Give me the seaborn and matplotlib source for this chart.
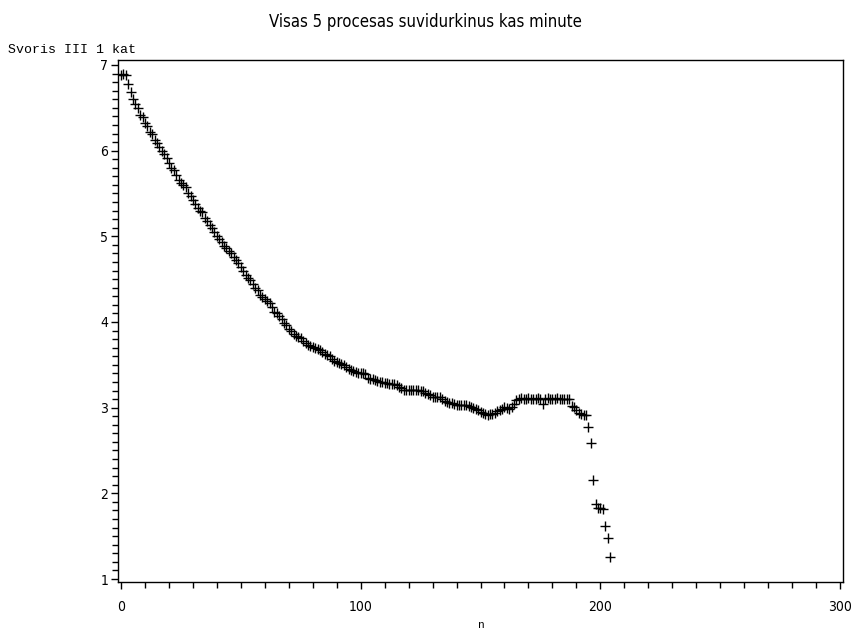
import matplotlib
matplotlib.use("Agg")
import matplotlib.pyplot as plt
from matplotlib.ticker import MultipleLocator
import seaborn as sns
import pandas as pd

# Weight series averaged per minute, one reading per step n
n_values = list(range(205))
svoris = [
    6.88, 6.90, 6.88, 6.78, 6.68, 6.60, 6.54, 6.50, 6.42, 6.39,
    6.32, 6.29, 6.22, 6.19, 6.12, 6.09, 6.04, 6.00, 5.96, 5.91,
    5.86, 5.80, 5.77, 5.71, 5.66, 5.62, 5.60, 5.58, 5.50, 5.47,
    5.42, 5.38, 5.33, 5.30, 5.28, 5.21, 5.18, 5.13, 5.10, 5.05,
    5.00, 4.97, 4.93, 4.89, 4.86, 4.83, 4.80, 4.76, 4.72, 4.69,
    4.64, 4.60, 4.55, 4.51, 4.49, 4.44, 4.40, 4.37, 4.32, 4.29,
    4.27, 4.24, 4.22, 4.17, 4.12, 4.10, 4.07, 4.03, 3.99, 3.96,
    3.92, 3.89, 3.86, 3.84, 3.82, 3.81, 3.78, 3.76, 3.73, 3.72,
    3.71, 3.70, 3.68, 3.67, 3.65, 3.63, 3.61, 3.60, 3.57, 3.54,
    3.53, 3.52, 3.51, 3.50, 3.47, 3.45, 3.44, 3.43, 3.42, 3.41,
    3.40, 3.40, 3.39, 3.35, 3.34, 3.33, 3.32, 3.31, 3.30, 3.30,
    3.29, 3.29, 3.28, 3.28, 3.28, 3.27, 3.24, 3.23, 3.21, 3.21,
    3.21, 3.21, 3.21, 3.21, 3.21, 3.20, 3.19, 3.17, 3.16, 3.15,
    3.13, 3.13, 3.12, 3.12, 3.10, 3.08, 3.07, 3.05, 3.05, 3.04,
    3.03, 3.03, 3.03, 3.03, 3.03, 3.02, 3.01, 3.00, 2.98, 2.97,
    2.95, 2.94, 2.93, 2.92, 2.93, 2.93, 2.94, 2.96, 2.97, 2.99,
    3.01, 3.00, 2.99, 3.01, 3.04, 3.09, 3.10, 3.11, 3.10, 3.10,
    3.11, 3.10, 3.10, 3.10, 3.11, 3.10, 3.04, 3.10, 3.11, 3.10,
    3.10, 3.10, 3.11, 3.10, 3.10, 3.10, 3.10, 3.10, 3.02, 3.01,
    2.97, 2.94, 2.93, 2.92, 2.91, 2.77, 2.59, 2.16, 1.88, 1.83,
    1.83, 1.82, 1.62, 1.48, 1.26,
]

title_text = "Visas 5 procesas suvidurkinus kas minute"
y_title = "Svoris III 1 kat"
x_title = "n"
x_ticks = [0, 100, 200, 300]
y_ticks = [1, 2, 3, 4, 5, 6, 7]

df = pd.DataFrame({"n": n_values, "svoris": svoris})

sns.set_theme(style="ticks")
plt.rcParams["font.family"] = ["DejaVu Sans"]
plt.rcParams["font.stretch"] = "condensed"
plt.rcParams["text.color"] = "black"

fig = plt.figure(figsize=(8.51, 6.34), dpi=100)
ax = fig.add_axes([118 / 851, 1 - 582 / 634, (843 - 118) / 851, (582 - 60) / 634])

sns.scatterplot(data=df, x="n", y="svoris", marker="+", color="black",
                s=55, linewidth=1.0, ax=ax, legend=False)

ax.set_xlim(-1.25, 301.25)
ax.set_ylim(0.965, 7.058)
ax.set_xticks(x_ticks)
ax.set_yticks(y_ticks)
ax.xaxis.set_minor_locator(MultipleLocator(10))
ax.yaxis.set_minor_locator(MultipleLocator(0.1))
ax.tick_params(axis="both", which="major", direction="out", length=5, width=1,
               color="black", labelsize=10, labelcolor="black")
ax.tick_params(axis="x", which="major", pad=8)
ax.tick_params(axis="y", which="major", pad=2)
ax.tick_params(axis="both", which="minor", direction="out", length=4, width=1,
               color="black")
for side in ["left", "right", "top", "bottom"]:
    ax.spines[side].set_visible(True)
    ax.spines[side].set_color("black")
    ax.spines[side].set_linewidth(1.0)

ax.set_ylabel("")
ax.set_xlabel(x_title, family=["Liberation Mono", "DejaVu Sans Mono"], fontsize=8,
              color="black")
ax.xaxis.set_label_coords(0.5, -0.072)

fig.text(8 / 851, 1 - 50 / 634, y_title, ha="left", va="center", color="black",
         family=["Liberation Mono", "DejaVu Sans Mono"], fontsize=9.5)
fig.text(0.5, 1 - 22 / 634, title_text, ha="center", va="center", color="black",
         family=["DejaVu Sans"], fontstretch="condensed", fontsize=12)

fig.savefig("out.png", dpi=100, facecolor="white")
